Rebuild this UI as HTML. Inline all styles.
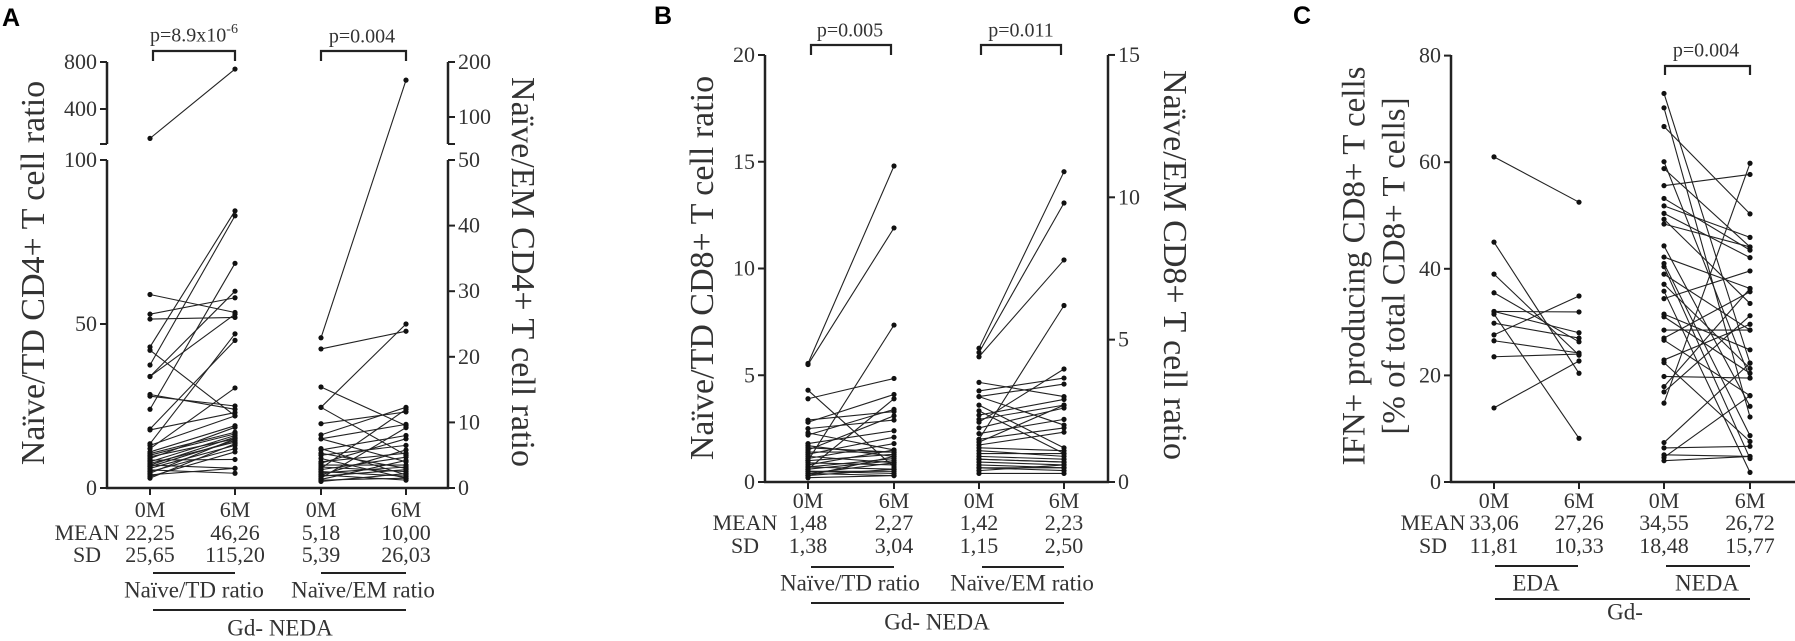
<!DOCTYPE html>
<html><head><meta charset="utf-8">
<style>
html,body{margin:0;padding:0;background:#fff;}
svg{display:block;}
text{font-family:"Liberation Serif",serif;fill:#333;}
.lbl{font-family:"Liberation Sans",sans-serif;font-weight:bold;fill:#000;}
</style></head>
<body>
<svg id="fig" width="1795" height="641" viewBox="0 0 1795 641" xmlns="http://www.w3.org/2000/svg"></svg>
<script>
// ---- Panel A data ----
const A_TD_0M = [59,53,51.5,43,42,37.5,34,34,28.5,28,24,18,17.7,13.5,13,12,11,10.5,10,9.5,9,8.5,8,7.5,7,7,6.5,6,5.5,5,4.5,4,3.5,3,150];
const A_TD_6M = [53.5,58,52,84.5,22,83,53,60,24,25,68.5,45,23,47,22,30.5,19,17,16.5,15,18.5,8.7,16,14,15.5,6,14.5,13,4.5,12,15,6,11,13.5,740];
const A_EM_0M = [22.9,21.2,15.4,12.3,12.3,9.8,8.1,7.5,7.5,6,5.8,5.3,5,4.5,4,3.8,3.5,3.2,3,2.8,2.5,2.3,2,2,1.8,1.5,1.3,1.2,1];
const A_EM_6M = [167,23.9,9.5,25,5,11.6,12.3,4,9.7,2,8,3,6.5,1.5,5.3,7.5,3.5,2.5,12,4.7,1.8,3.2,5.8,1.2,2.8,9.2,4.2,1.5,2.2];
const A_LEFT_TICKS = [0,50,100];
const A_LEFT_UPPER_TICKS = [400,800];
const A_RIGHT_TICKS = [0,10,20,30,40,50];
const A_RIGHT_UPPER_TICKS = [100,200];
const A_MEAN = ["22,25","46,26","5,18","10,00"];
const A_SD = ["25,65","115,20","5,39","26,03"];
// ---- Panel B data ----
const B_TD_0M = [5.55,5.5,1.0,3.9,4.3,2.9,2.8,2.5,2.3,2.2,1.8,1.7,1.5,1.4,1.3,1.2,1.1,1,0.9,0.8,0.7,0.7,0.6,0.5,0.5,0.4,0.4,0.3,0.3,0.2,0.6,1.6];
const B_TD_6M = [14.8,11.9,7.35,4.85,0.7,3.3,4.1,2.9,1.5,3.4,2.4,1.2,3.1,1.4,2.1,0.9,1.8,1.3,0.8,1.5,0.6,1.1,1,0.5,0.4,0.9,0.3,0.6,1.2,0.3,3.9,1.4];
const B_EM_0M = [4.7,4.55,4.4,1.5,3.5,3.2,3.0,3.0,2.7,2.35,2.2,2.1,1.9,1.7,1.5,1.3,1.2,1.1,1,0.9,0.8,0.7,0.6,0.5,0.5,0.4,0.3,1.4,2.5,0.8];
const B_EM_6M = [10.9,9.8,7.8,6.2,3.0,3.65,3.44,2.0,1.2,2.9,2.7,3.97,2.6,2.2,1.9,1.75,1.1,0.9,1.0,0.8,0.7,0.6,0.5,0.5,0.4,0.6,0.3,2.7,1.0,0.7];
const B_LEFT_TICKS = [0,5,10,15,20];
const B_RIGHT_TICKS = [0,5,10,15];
const B_MEAN = ["1,48","2,27","1,42","2,23"];
const B_SD = ["1,38","3,04","1,15","2,50"];
// ---- Panel C data ----
const C_EDA_0M = [61,45,39,35.5,32,32,29.8,27.6,26.5,23.5,13.9,31.5];
const C_EDA_6M = [52.5,20.4,23.8,26.3,31.9,28,27,34.9,24.2,24,22.7,8.2];
const C_NEDA_0M = [72.9,70.2,66.7,60.1,58.8,55.6,53.2,51.8,50.4,49.3,48.4,44.3,42.2,41.0,40.4,39.0,37.1,35.8,34.4,31.5,31.0,28.5,27.0,26.6,22.9,22.4,19.8,17.9,16.9,14.8,7.4,6.4,5.1,4.6,4.0];
const C_NEDA_6M = [22.3,12.2,50.3,19.5,44.1,57.7,43.5,45.9,42.1,33.5,44.1,14.2,36.3,8.7,4.4,28.5,21.3,1.8,39.6,24.8,20.4,28.5,35.7,16.2,29.6,7.6,19.5,36.3,31.2,59.8,22.3,6.7,4.8,16.2,4.8];
const C_TICKS = [0,20,40,60,80];
const C_MEAN = ["33,06","27,26","34,55","26,72"];
const C_SD = ["11,81","10,33","18,48","15,77"];

const NS = "http://www.w3.org/2000/svg";
const svg = document.getElementById('fig');
function mk(tag, attrs, parent, txt){
  const e = document.createElementNS(NS, tag);
  for (const k in attrs) e.setAttribute(k, attrs[k]);
  if (txt !== undefined) e.textContent = txt;
  (parent || svg).appendChild(e);
  return e;
}
function line(x1,y1,x2,y2,w,p){return mk('line',{x1,y1,x2,y2,stroke:'#222','stroke-width':w||2},p);}

function yA_left(v){ return v<=100 ? 488 - v*3.28 : 109 - (v-400)*47/400; }
function yA_right(v){ return v<=50 ? 488 - v*6.56 : 117 - (v-100)*0.55; }
function yB_left(v){ return 482 - v*21.35; }
function yB_right(v){ return 482 - v*28.47; }
function yC(v){ return 482 - v*5.33; }

function pairs(x0,x1,a0,a1,sc,name){
  const g = mk('g',{});
  
  
  for (let i=0;i<a0.length;i++){
    const l = mk('line',{x1:x0,y1:sc(a0[i]),x2:x1,y2:sc(a1[i]),stroke:'#222','stroke-width':1.1},g);
    
    
  }
  for (let i=0;i<a0.length;i++){
    const c0 = mk('circle',{cx:x0,cy:sc(a0[i]),r:2.6,fill:'#111'},g);
    
    
    const c1 = mk('circle',{cx:x1,cy:sc(a1[i]),r:2.6,fill:'#111'},g);
    
    
  }
}
function leftTicks(x,ticks,sc,name){
  ticks.forEach(t=>{
    line(x-7,sc(t),x,sc(t),2);
    const e = mk('text',{x:x-10,y:sc(t)+7,'font-size':22,'text-anchor':'end'},svg,String(t));
    
    
  });
}
function rightTicks(x,ticks,sc,name){
  ticks.forEach(t=>{
    line(x,sc(t),x+7,sc(t),2);
    const e = mk('text',{x:x+10,y:sc(t)+7,'font-size':22,'text-anchor':'start'},svg,String(t));
    
    
  });
}
function vlabel(x,y,txt,rot,size,name){
  const e = mk('text',{x:x,y:y,'font-size':size,'text-anchor':'middle','dominant-baseline':'middle',transform:`rotate(${rot} ${x} ${y})`,fill:'#222'},svg,txt);
  
  
}
function txt(x,y,s,size,name,anchor){
  const e = mk('text',{x:x,y:y,'font-size':size,'text-anchor':anchor||'middle','dominant-baseline':'middle'},svg,s);
  
  
  return e;
}
function bracket(x0,x1,yt,yb){
  mk('path',{d:`M${x0},${yb} L${x0},${yt} L${x1},${yt} L${x1},${yb}`,fill:'none',stroke:'#222','stroke-width':2.2});
}
function bottom(cols,meanX,y0,ym,ys,mean,sd){
  ['0M','6M','0M','6M'].forEach((s,i)=>txt(cols[i],y0,s,22,'x-tick-label'));
  txt(meanX,ym,'MEAN',22,'mean-label');
  txt(meanX,ys,'SD',22,'sd-label');
  mean.forEach((s,i)=>txt(cols[i],ym,s,22,'mean-value'));
  sd.forEach((s,i)=>txt(cols[i],ys,s,22,'sd-value'));
}
function panelLetter(x,y,s){
  const e = mk('text',{x:x,y:y,'font-size':25,class:'lbl'},svg,s);
  
  
}

// ================= Panel A =================
panelLetter(2,26,'A');
const colA = [150,235,321,406];
line(107,62,107,144,2.5); line(107,160,107,488,2.5);
line(100,144,107,144,2); line(100,160,107,160,2);
line(448,62,448,144,2.5); line(448,160,448,488,2.5);
line(448,144,455,144,2); line(448,160,455,160,2);
line(106,488,449,488,2.5);
colA.forEach(x=>line(x,488,x,495,2));
leftTicks(107,A_LEFT_TICKS,yA_left,'y-tick-left');
leftTicks(107,A_LEFT_UPPER_TICKS,yA_left,'y-tick-left-upper');
rightTicks(448,A_RIGHT_TICKS,yA_right,'y-tick-right');
rightTicks(448,A_RIGHT_UPPER_TICKS,yA_right,'y-tick-right-upper');
pairs(colA[0],colA[1],A_TD_0M,A_TD_6M,yA_left,'naive-td-series');
pairs(colA[2],colA[3],A_EM_0M,A_EM_6M,yA_right,'naive-em-series');
vlabel(36,273,'Naïve/TD CD4+ T cell ratio',-90,34,'y-axis-title-left');
vlabel(520,272,'Naïve/EM CD4+ T cell ratio',90,34,'y-axis-title-right');
bracket(153,235,51,61); bracket(321,406,51,61);
(function(){const t=txt(194,37,'p=8.9x10',20,'p-value-td');mk('tspan',{dy:-7,'font-size':14},t,'-6');})();
txt(362,38,'p=0.004',20,'p-value-em');
bottom(colA,87,512,535,557,A_MEAN,A_SD);
line(153,573,235,573,2); line(321,573,406,573,2);
txt(194,592,'Naïve/TD ratio',23,'group-label-td');
txt(363,592,'Naïve/EM ratio',23,'group-label-em');
line(153,610,406,610,2);
txt(280,630,'Gd- NEDA',23,'group-label-neda');

// ================= Panel B =================
panelLetter(654,24,'B');
const colB = [808,894,979,1064];
line(765,55,765,482,2.5); line(1108,55,1108,482,2.5);
line(764,482,1109,482,2.5);
colB.forEach(x=>line(x,482,x,489,2));
leftTicks(765,B_LEFT_TICKS,yB_left,'y-tick-left');
rightTicks(1108,B_RIGHT_TICKS,yB_right,'y-tick-right');
pairs(colB[0],colB[1],B_TD_0M,B_TD_6M,yB_left,'naive-td-series');
pairs(colB[2],colB[3],B_EM_0M,B_EM_6M,yB_right,'naive-em-series');
vlabel(705,268,'Naïve/TD CD8+ T cell ratio',-90,34,'y-axis-title-left');
vlabel(1172,265,'Naïve/EM CD8+ T cell ratio',90,34,'y-axis-title-right');
bracket(811,891,45,55); bracket(981,1061,45,55);
txt(850,32,'p=0.005',20,'p-value-td');
txt(1021,32,'p=0.011',20,'p-value-em');
bottom(colB,745,503,525,548,B_MEAN,B_SD);
line(811,567,894,567,2); line(982,567,1064,567,2);
txt(850,585,'Naïve/TD ratio',23,'group-label-td');
txt(1022,585,'Naïve/EM ratio',23,'group-label-em');
line(811,603,1064,603,2);
txt(937,624,'Gd- NEDA',23,'group-label-neda');

// ================= Panel C =================
panelLetter(1293,24,'C');
const colC = [1494,1579,1664,1750];
line(1451,55,1451,482,2.5);
line(1450,482,1795,482,2.5);
colC.forEach(x=>line(x,482,x,489,2));
leftTicks(1451,C_TICKS,yC,'y-tick-left');
pairs(colC[0],colC[1],C_EDA_0M,C_EDA_6M,yC,'eda-series');
pairs(colC[2],colC[3],C_NEDA_0M,C_NEDA_6M,yC,'neda-series');
vlabel(1357,266,'IFN+ producing CD8+ T cells',-90,33,'y-axis-title-line1');
vlabel(1397,266,'[% of total CD8+ T cells]',-90,33,'y-axis-title-line2');
bracket(1665,1750,66,75);
txt(1706,52,'p=0.004',20,'p-value-neda');
bottom(colC,1433,503,525,548,C_MEAN,C_SD);
line(1495,566,1578,566,2); line(1666,566,1750,566,2);
txt(1536,585,'EDA',23,'group-label-eda');
txt(1707,585,'NEDA',23,'group-label-neda');
line(1495,599,1750,599,2);
txt(1625,614,'Gd-',23,'group-label-gd');
</script>
</body></html>
